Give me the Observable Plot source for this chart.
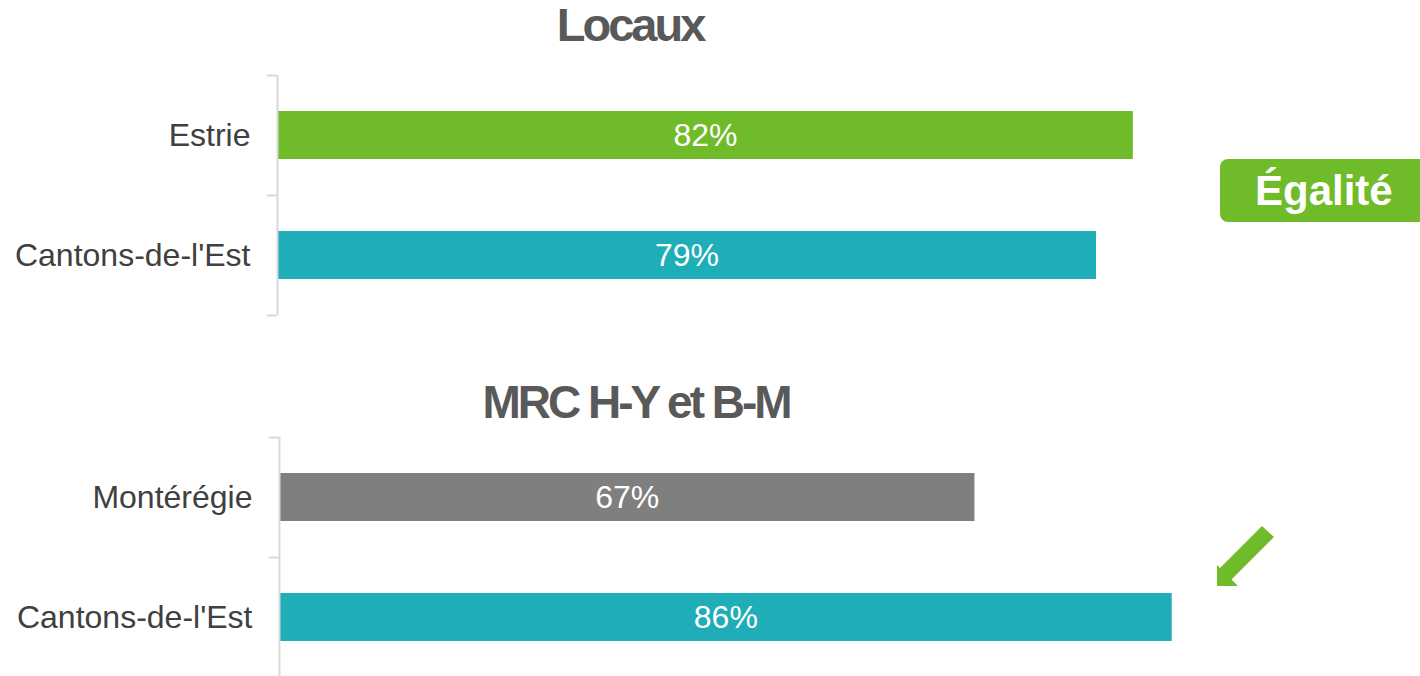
<!DOCTYPE html>
<html>
<head>
<meta charset="utf-8">
<script src="https://cdn.jsdelivr.net/npm/d3@7"></script>
<script src="https://cdn.jsdelivr.net/npm/@observablehq/plot@0.6"></script>
<style>
  html, body { margin: 0; padding: 0; background: #fff; overflow: hidden; }
  #root { position: relative; width: 1420px; height: 676px; font-family: "Liberation Sans", Arial, sans-serif; }
  .panel { position: absolute; left: 0; }
  .title { position: absolute; font-weight: bold; color: #595959; letter-spacing: -3px; line-height: 1; white-space: nowrap; text-align: center; }
  #badge { position: absolute; left: 1220px; top: 159px; width: 220px; height: 63px; background: #70bb29; border-radius: 8px; }
  #badgeText { position: absolute; left: 1255px; top: 170px; font-weight: bold; color: #fff; font-size: 42px; line-height: 1; white-space: nowrap; }
  #arrow { position: absolute; left: 0; top: 0; }
</style>
</head>
<body>
<div id="root"></div>
<script>
// ---- Data ----
const panelTitles = ["Locaux", "MRC H-Y et B-M"];
const panel1Categories = ["Estrie", "Cantons-de-l'Est"];
const panel1Values = [82.45, 78.9];
const panel2Categories = ["Montérégie", "Cantons-de-l'Est"];
const panel2Values = [67.0, 86.0];
const badgeLabel = "Égalité";

// colour scale (by region)
const regionDomain = ["Estrie", "Cantons-de-l'Est", "Montérégie"];
const regionColors = ["#70bb29", "#1fadb8", "#7f7f7f"];

const root = document.getElementById("root");

function makePanel(categories, values, opts) {
  const data = categories.map((c, i) => ({cat: c, value: values[i]}));
  const chart = Plot.plot({
    width: 1420,
    height: opts.height,
    marginTop: opts.marginTop,
    marginBottom: opts.marginBottom,
    marginLeft: opts.marginLeft,
    marginRight: 1420 - opts.marginLeft - 1038,
    style: {fontFamily: '"Liberation Sans", Arial, sans-serif', fontSize: "32px", color: "#404040", background: "transparent", overflow: "visible"},
    x: {domain: [0, 100], axis: null},
    y: {domain: categories, paddingInner: 0.6, paddingOuter: 0.3, label: null},
    color: {domain: regionDomain, range: regionColors},
    marks: [
      Plot.barX(data, {x: "value", y: "cat", fill: "cat"}),
      Plot.text(data, {x: d => d.value / 2, y: "cat", text: d => `${Math.round(d.value)}%`, fill: "white", fontSize: 32}),
      Plot.ruleX([0], {stroke: "#d9d9d9", strokeWidth: 2}),
      Plot.ruleY(categories, {y: d => d, x1: -1, x2: 0, dy: -60, stroke: "#d9d9d9", strokeWidth: 2}),
      Plot.ruleY(categories.slice(-1), {y: d => d, x1: -1, x2: 0, dy: 60, stroke: "#d9d9d9", strokeWidth: 2}),
      Plot.axisY({tickSize: 0, tickPadding: 27, fontSize: 32, label: null})
    ]
  });
  chart.classList.add("panel");
  chart.style.top = opts.top + "px";
  chart.style.position = "absolute";
  root.appendChild(chart);
}

makePanel(panel1Categories, panel1Values, {top: 0, height: 330, marginTop: 75, marginBottom: 15, marginLeft: 277});
makePanel(panel2Categories, panel2Values, {top: 336, height: 341, marginTop: 101, marginBottom: 0, marginLeft: 279});

// titles
const t1 = document.createElement("div");
t1.className = "title";
t1.textContent = panelTitles[0];
Object.assign(t1.style, {left: "330px", width: "600px", top: "1px", fontSize: "47px"});
root.appendChild(t1);

const t2 = document.createElement("div");
t2.className = "title";
t2.textContent = panelTitles[1];
Object.assign(t2.style, {left: "336px", width: "600px", top: "379px", fontSize: "46px"});
root.appendChild(t2);

// badge
const badge = document.createElement("div");
badge.id = "badge";
root.appendChild(badge);
const badgeText = document.createElement("div");
badgeText.id = "badgeText";
badgeText.textContent = badgeLabel;
root.appendChild(badgeText);

// arrow annotation
const ns = "http://www.w3.org/2000/svg";
const arrow = document.createElementNS(ns, "svg");
arrow.setAttribute("id", "arrow");
arrow.setAttribute("width", 1420);
arrow.setAttribute("height", 676);
const poly = document.createElementNS(ns, "polygon");
poly.setAttribute("points", "1262,526 1274,537 1231.5,579.5 1238,586 1217,586 1217,565 1220,568");
poly.setAttribute("fill", "#70bb29");
arrow.appendChild(poly);
root.appendChild(arrow);
</script>
</body>
</html>
